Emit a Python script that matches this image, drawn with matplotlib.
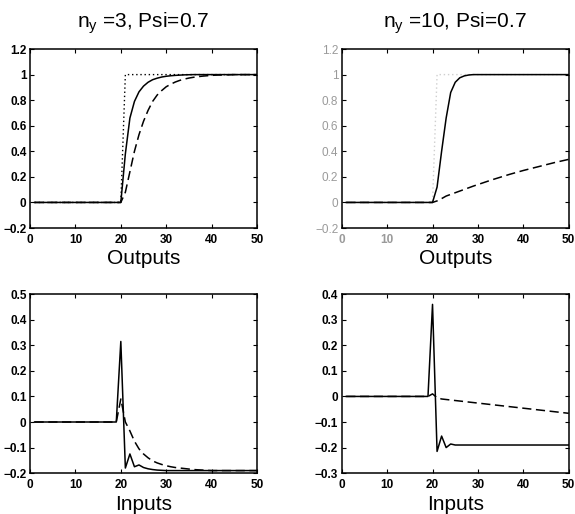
#Step responses of the two predictive controllers (outputs and inputs).
import numpy as np
import matplotlib
matplotlib.use('Agg')
import matplotlib.pyplot as plt

plt.rcParams['font.family'] = ['Liberation Sans', 'DejaVu Sans']
plt.rcParams['mathtext.default'] = 'regular'

k = list(range(1, 51))

#Set point
r = [0]*20 + [1]*30

#Outputs, n_y = 3
y3_solid = [0]*20 + [0.38, 0.66, 0.79, 0.865, 0.91, 0.94, 0.96, 0.972, 0.981, 0.987,
                     0.991, 0.994, 0.996, 0.998, 0.999] + [1]*15
y3_dash = [0]*20 + [0.08, 0.24, 0.40, 0.53, 0.635, 0.72, 0.79, 0.84, 0.875, 0.905,
                    0.925, 0.942, 0.955, 0.965, 0.973, 0.979, 0.984, 0.988, 0.991, 0.994,
                    0.996, 0.997, 0.998, 0.999] + [1]*6

#Outputs, n_y = 10
y10_solid = [0]*20 + [0.12, 0.40, 0.66, 0.86, 0.94, 0.975, 0.99, 0.997] + [1]*22
y10_dash = [0]*20 + [0.012, 0.03, 0.05, 0.063, 0.076, 0.089, 0.102, 0.115, 0.128, 0.14,
                     0.152, 0.164, 0.176, 0.187, 0.198, 0.209, 0.22, 0.23, 0.24, 0.25,
                     0.259, 0.268, 0.277, 0.286, 0.295, 0.304, 0.313, 0.321, 0.329, 0.337]

#Inputs, n_y = 3
u3_solid = [0]*19 + [0.315, -0.18, -0.125, -0.175, -0.168, -0.178, -0.183, -0.186, -0.188,
                     -0.189] + [-0.19]*21
u3_dash = [0]*19 + [0.09, 0.0, -0.035, -0.075, -0.105, -0.125, -0.14, -0.152, -0.16,
                    -0.166, -0.171, -0.175, -0.178, -0.18, -0.182, -0.184, -0.186, -0.187,
                    -0.188, -0.189] + [-0.19]*11

#Inputs, n_y = 10
u10_solid = [0]*19 + [0.36, -0.215, -0.155, -0.2, -0.186, -0.19] + [-0.19]*25
u10_dash = [0]*19 + [0.01, -0.005, -0.01, -0.012, -0.014, -0.016, -0.018, -0.02, -0.022,
                     -0.024, -0.026, -0.028, -0.03, -0.032, -0.034, -0.036, -0.038, -0.04,
                     -0.042, -0.044, -0.046, -0.048, -0.05, -0.052, -0.054, -0.056, -0.058,
                     -0.06, -0.062, -0.064, -0.066]

titles = ['n$_y$ =3, Psi=0.7', 'n$_y$ =10, Psi=0.7']

fig = plt.figure(figsize=(5.75, 5.14), dpi=100)
w, h = 0.3948, 0.3482
ax1 = fig.add_axes([0.0522, 0.5564, w, h])
ax2 = fig.add_axes([0.5943, 0.5564, w, h])
ax3 = fig.add_axes([0.0522, 0.0795, w, h])
ax4 = fig.add_axes([0.5943, 0.0795, w, h])

dash = (0, (6, 3))
dot = (0, (1, 2))

ax1.plot(k, r, color='k', lw=1.0, linestyle=dot)
ax1.plot(k, y3_solid, color='k', lw=1.1)
ax1.plot(k, y3_dash, color='k', lw=1.1, linestyle=dash)

ax2.plot(k, r, color='#cfcfcf', lw=1.0, linestyle=dot)
ax2.plot(k, y10_solid, color='k', lw=1.1)
ax2.plot(k, y10_dash, color='k', lw=1.1, linestyle=dash)

ax3.plot(k, u3_solid, color='k', lw=1.1)
ax3.plot(k, u3_dash, color='k', lw=1.1, linestyle=dash)

ax4.plot(k, u10_solid, color='k', lw=1.1)
ax4.plot(k, u10_dash, color='k', lw=1.1, linestyle=dash)

for ax in [ax1, ax2]:
    ax.set_ylim(-0.2, 1.2)
    ax.set_yticks([-0.2, 0, 0.2, 0.4, 0.6, 0.8, 1, 1.2])
    ax.set_yticklabels(['\u22120.2', '0', '0.2', '0.4', '0.6', '0.8', '1', '1.2'])
ax3.set_ylim(-0.2, 0.5)
ax3.set_yticks([-0.2, -0.1, 0, 0.1, 0.2, 0.3, 0.4, 0.5])
ax3.set_yticklabels(['\u22120.2', '\u22120.1', '0', '0.1', '0.2', '0.3', '0.4', '0.5'])
ax4.set_ylim(-0.3, 0.4)
ax4.set_yticks([-0.3, -0.2, -0.1, 0, 0.1, 0.2, 0.3, 0.4])
ax4.set_yticklabels(['\u22120.3', '\u22120.2', '\u22120.1', '0', '0.1', '0.2', '0.3', '0.4'])

for ax in [ax1, ax2, ax3, ax4]:
    ax.set_xlim(0, 50)
    ax.set_xticks([0, 10, 20, 30, 40, 50])
    ax.tick_params(direction='in', length=3, width=0.8, top=True, right=True,
                   labelsize=8.5, pad=2.5)
    ax.tick_params(axis='x', pad=4.5)
    for lab in ax.get_xticklabels() + ax.get_yticklabels():
        lab.set_fontweight('bold')
    for sp in ax.spines.values():
        sp.set_linewidth(1.1)

#scan is washed out on the right hand y labels
for lab in ax2.get_yticklabels():
    lab.set_color('#9a9a9a')
    lab.set_fontweight('normal')
for lab in ax2.get_xticklabels()[:2]:
    lab.set_color('#9a9a9a')

for ax, t in zip([ax1, ax2], titles):
    ax.text(0.5, 1.117, t, transform=ax.transAxes, ha='center', va='baseline', fontsize=15)
for ax in [ax1, ax2]:
    ax.text(0.5, -0.2, 'Outputs', transform=ax.transAxes, ha='center', va='baseline',
            fontsize=15)
for ax in [ax3, ax4]:
    ax.text(0.5, -0.205, 'Inputs', transform=ax.transAxes, ha='center', va='baseline',
            fontsize=15)

fig.savefig('out.png', dpi=100)
